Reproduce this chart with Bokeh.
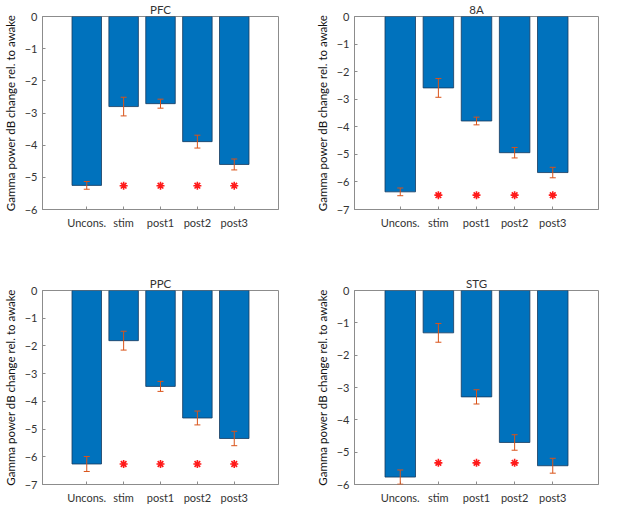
from bokeh.plotting import figure
from bokeh.models import Range1d, FixedTicker, ColumnDataSource, Whisker, TeeHead
from bokeh.layouts import column, row
from bokeh.embed import file_html
from bokeh.resources import INLINE

categories = ["Uncons.", "stim", "post1", "post2", "post3"]
positions = [1, 2, 3, 4, 5]

pfc_mean = [-5.25, -2.80, -2.71, -3.89, -4.60]
pfc_err = [0.12, 0.29, 0.14, 0.20, 0.17]
pfc_star_idx = [1, 2, 3, 4]
pfc_star_y = -5.26

a8_mean = [-6.36, -2.59, -3.79, -4.94, -5.66]
a8_err = [0.14, 0.34, 0.14, 0.19, 0.19]
a8_star_idx = [1, 2, 3, 4]
a8_star_y = -6.48

ppc_mean = [-6.26, -1.81, -3.46, -4.60, -5.34]
ppc_err = [0.27, 0.34, 0.18, 0.25, 0.26]
ppc_star_idx = [1, 2, 3, 4]
ppc_star_y = -6.26

stg_mean = [-5.77, -1.31, -3.29, -4.70, -5.42]
stg_err = [0.22, 0.29, 0.22, 0.24, 0.23]
stg_star_idx = [1, 2, 3]
stg_star_y = -5.33

FONT = "Lato"
BAR = "#0072BD"
ERR = "#D95319"
FRAME = "#8c8c8c"
TXT = "#333333"


def panel(title, means, errs, star_idx, star_y, ymin, width, height, left, right, top, bottom):
    p = figure(width=width, height=height, output_backend="svg", toolbar_location=None,
               x_range=Range1d(-0.2, 6.2), y_range=Range1d(ymin, 0),
               min_border_left=left, min_border_right=right,
               min_border_top=top, min_border_bottom=bottom)
    p.background_fill_color = "white"
    p.border_fill_color = "white"
    p.outline_line_color = FRAME
    p.xgrid.visible = False
    p.ygrid.visible = False

    p.title.text = title
    p.title.align = "center"
    p.title.text_font = FONT
    p.title.text_font_style = "normal"
    p.title.text_font_size = "11.5px"
    p.title.text_color = "#333333"
    p.title.standoff = 1

    src = ColumnDataSource(dict(x=positions, top=means,
                                upper=[m + e for m, e in zip(means, errs)],
                                lower=[m - e for m, e in zip(means, errs)]))
    p.vbar(x="x", top="top", bottom=0, width=0.8, source=src,
           fill_color=BAR, line_color="#163a5e", line_width=0.8)
    w = Whisker(base="x", upper="upper", lower="lower", source=src,
                line_color=ERR, line_width=1, level="overlay",
                upper_head=TeeHead(size=6, line_color=ERR, line_width=1),
                lower_head=TeeHead(size=6, line_color=ERR, line_width=1))
    p.add_layout(w)

    sx = [positions[i] for i in star_idx]
    sy = [star_y for _ in star_idx]
    p.scatter(sx, sy, marker="asterisk", size=8, line_color="#ff1a1a", line_width=1.6)

    xa = p.xaxis[0]
    xa.ticker = FixedTicker(ticks=positions)
    xa.major_label_overrides = {pos: c for pos, c in zip(positions, categories)}
    ya = p.yaxis[0]
    ya.ticker = FixedTicker(ticks=list(range(ymin, 1)))
    ya.axis_label = "Gamma power dB change rel. to awake"
    ya.axis_label_standoff = 5
    ya.axis_label_text_font = FONT
    ya.axis_label_text_font_style = "normal"
    ya.axis_label_text_font_size = "11.5px"
    ya.axis_label_text_color = "#111111"
    for ax in (xa, ya):
        ax.axis_line_color = FRAME
        ax.major_tick_line_color = FRAME
        ax.major_tick_in = 3
        ax.major_tick_out = 0
        ax.minor_tick_line_color = None
        ax.major_label_text_font = FONT
        ax.major_label_text_font_size = "11px"
        ax.major_label_text_color = TXT
    xa.major_label_standoff = 6
    ya.major_label_standoff = 5
    return p


p1 = panel("PFC", pfc_mean, pfc_err, pfc_star_idx, pfc_star_y, -6, 298, 245, 34, 20, 12, 36)
p2 = panel("8A", a8_mean, a8_err, a8_star_idx, a8_star_y, -7, 303, 245, 56, 3, 12, 36)
p3 = panel("PPC", ppc_mean, ppc_err, ppc_star_idx, ppc_star_y, -7, 298, 261, 34, 20, 45, 20)
p4 = panel("STG", stg_mean, stg_err, stg_star_idx, stg_star_y, -6, 303, 261, 56, 3, 45, 20)

layout = column(row(p1, p2), row(p3, p4))
open("out.html", "w").write(file_html(layout, INLINE))
